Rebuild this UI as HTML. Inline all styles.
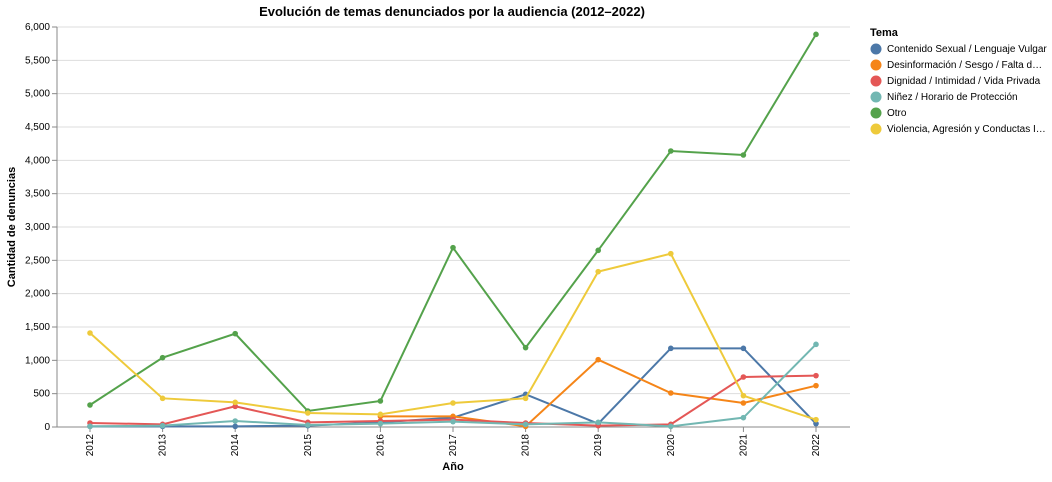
<!DOCTYPE html>
<html><head><meta charset="utf-8"><style>
body{margin:0;background:#fff;font-family:"Liberation Sans",Arial,sans-serif}
text{font-family:"Liberation Sans",Arial,sans-serif}
</style></head><body>
<svg id="c" width="1052" height="477"></svg>
<script>
const years=["2012","2013","2014","2015","2016","2017","2018","2019","2020","2021","2022"];
const seriesNames=["Contenido Sexual / Lenguaje Vulgar","Desinformación / Sesgo / Falta d…","Dignidad / Intimidad / Vida Privada","Niñez / Horario de Protección","Otro","Violencia, Agresión y Conductas I…"];
const contenido=[10,10,10,20,70,140,490,50,1180,1180,50];
const desinfo=[null,null,null,null,160,160,10,1010,510,360,620];
const dignidad=[60,40,310,70,90,110,60,20,40,750,770];
const ninez=[10,20,90,30,50,80,40,70,10,140,1240];
const otro=[330,1040,1400,240,390,2690,1190,2650,4140,4080,5890];
const violencia=[1410,430,370,210,190,360,430,2330,2600,470,110];
const yTicks=[0,500,1000,1500,2000,2500,3000,3500,4000,4500,5000,5500,6000];
const colors=["#4c78a8","#f58518","#e45756","#72b7b2","#54a24b","#eeca3b"];
const allSeries=[contenido,desinfo,dignidad,ninez,otro,violencia];
const svg=document.getElementById('c');const NS="http://www.w3.org/2000/svg";
function el(t,a,p){const e=document.createElementNS(NS,t);for(const k in a)e.setAttribute(k,a[k]);(p||svg).appendChild(e);return e;}
const L=57,R=850,T=27,B=427;
const x=i=>90+i*(816-90)/(years.length-1);
const y=v=>B-(v/6000)*(B-T);
yTicks.forEach(t=>{
 const g=el('line',{x1:L,x2:R,y1:y(t),y2:y(t),stroke:'#ddd'});
 
 const tk=el('line',{x1:L-5,x2:L,y1:y(t),y2:y(t),stroke:'#888'});
 
 const tx=el('text',{x:L-7,y:y(t)+3,'text-anchor':'end','font-size':10,fill:'#000'});tx.textContent=t.toLocaleString('en-US');
 
});
const ax=el('line',{x1:L,x2:R,y1:B,y2:B,stroke:'#888'});

const ay=el('line',{x1:L,x2:L,y1:T,y2:B,stroke:'#888'});

years.forEach((yr,i)=>{
 const tk=el('line',{x1:x(i),x2:x(i),y1:B,y2:B+5,stroke:'#888'});
 
 const tx=el('text',{transform:`translate(${x(i)+3},${B+7}) rotate(-90)`,'text-anchor':'end','font-size':10});tx.textContent=yr;
 
});
allSeries.forEach((s,si)=>{
 let d='';let pen=false;
 s.forEach((v,i)=>{if(v==null){pen=false;return;}d+=(pen?'L':'M')+x(i)+','+y(v);pen=true;});
 const p=el('path',{d:d,fill:'none',stroke:colors[si],'stroke-width':2});
 
 s.forEach((v,i)=>{if(v==null)return;
  const c=el('circle',{cx:x(i),cy:y(v),r:2.8,fill:colors[si]});
  });
});
const t1=el('text',{x:452,y:16,'text-anchor':'middle','font-size':13,'font-weight':'bold'});t1.textContent='Evolución de temas denunciados por la audiencia (2012–2022)';

const xt=el('text',{x:453,y:470,'text-anchor':'middle','font-size':11,'font-weight':'bold'});xt.textContent='Año';

const yt=el('text',{transform:'translate(15,227) rotate(-90)','text-anchor':'middle','font-size':11,'font-weight':'bold'});yt.textContent='Cantidad de denuncias';

const lt=el('text',{x:870,y:36,'font-size':11,'font-weight':'bold'});lt.textContent='Tema';

seriesNames.forEach((n,i)=>{
 const c=el('circle',{cx:876,cy:49+i*16,r:5.5,fill:colors[i]});
 
 const t=el('text',{x:887,y:52+i*16,'font-size':10});t.textContent=n;
 
});
</script>
</body></html>
